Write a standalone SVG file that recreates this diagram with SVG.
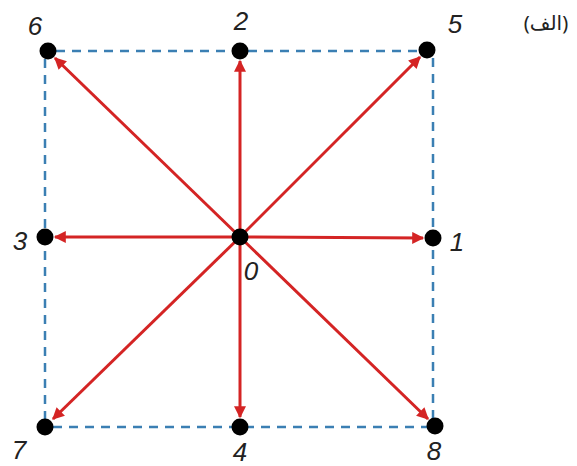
<svg xmlns="http://www.w3.org/2000/svg" width="577" height="466" viewBox="0 0 577 466">
<defs>
<marker id="ah" viewBox="0 0 10 10" refX="9" refY="5" markerWidth="4.5" markerHeight="4" orient="auto" markerUnits="strokeWidth">
<path d="M0,0 L10,5 L0,10 z" fill="#d42424"/>
</marker>
</defs>
<style>
.dash{stroke:#3b7fb3;stroke-width:2.5;stroke-dasharray:9,7;fill:none}
.arr{stroke:#d42424;stroke-width:3;fill:none;marker-end:url(#ah)}
.dot{fill:#000}
.lbl{font-family:"Liberation Sans",Arial,sans-serif;font-style:italic;font-size:26px;fill:#222;text-anchor:middle}
.ar{font-family:"Noto Sans","DejaVu Sans",sans-serif;font-size:20px;fill:#222}
</style>
<rect width="577" height="466" fill="#fff"/>
<g id="frame">
<path class="dash" d="M56,51 L427,51"/>
<path class="dash" d="M45,59 L45,427"/>
<path class="dash" d="M433,58 L433,426"/>
<path class="dash" d="M53,427 L435,427"/>
</g>
<g id="connectors">
<line class="arr" x1="240" y1="237" x2="240" y2="61"/>
<line class="arr" x1="240" y1="237" x2="240" y2="417"/>
<line class="arr" x1="240" y1="237" x2="55" y2="237"/>
<line class="arr" x1="240" y1="237" x2="423" y2="238"/>
<line class="arr" x1="240" y1="237" x2="55" y2="58"/>
<line class="arr" x1="240" y1="237" x2="420" y2="57"/>
<line class="arr" x1="240" y1="237" x2="53" y2="419"/>
<line class="arr" x1="240" y1="237" x2="428" y2="419"/>
</g>
<g id="n0"><circle class="dot" cx="240" cy="237" r="8.5"/><text class="lbl" x="251" y="280">0</text></g>
<g id="n1"><circle class="dot" cx="433" cy="238" r="8.5"/><text class="lbl" x="457" y="251">1</text></g>
<g id="n2"><circle class="dot" cx="240" cy="51" r="8.5"/><text class="lbl" x="241" y="30">2</text></g>
<g id="n3"><circle class="dot" cx="45" cy="237" r="8.5"/><text class="lbl" x="20" y="250">3</text></g>
<g id="n4"><circle class="dot" cx="240" cy="427" r="8.5"/><text class="lbl" x="240" y="461">4</text></g>
<g id="n5"><circle class="dot" cx="427" cy="50" r="8.5"/><text class="lbl" x="455" y="33">5</text></g>
<g id="n6"><circle class="dot" cx="48" cy="51" r="8.5"/><text class="lbl" x="35" y="35">6</text></g>
<g id="n7"><circle class="dot" cx="45" cy="427" r="8.5"/><text class="lbl" x="19" y="459">7</text></g>
<g id="n8"><circle class="dot" cx="435" cy="426" r="8.5"/><text class="lbl" x="434" y="460">8</text></g>
<text class="ar" x="546" y="30" text-anchor="middle">(الف)</text>
</svg>
